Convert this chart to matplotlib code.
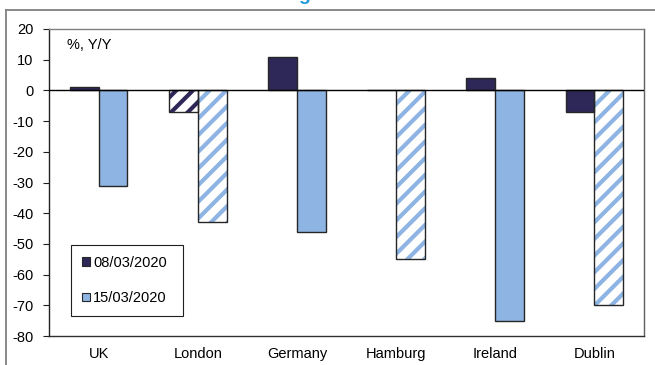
import numpy as np
import matplotlib
matplotlib.use("Agg")
import matplotlib.pyplot as plt
from matplotlib.patches import Patch
from matplotlib.lines import Line2D

plt.rcParams['font.family'] = ['Liberation Sans', 'DejaVu Sans']
plt.rcParams['hatch.linewidth'] = 3.0

categories = ['UK', 'London', 'Germany', 'Hamburg', 'Ireland', 'Dublin']
series_names = ['08/03/2020', '15/03/2020']
s1 = [1, -7, 11, 0, 4, -7]
s2 = [-31, -43, -46, -55, -75, -70]
s1_hatched = [False, True, False, False, False, False]
s2_hatched = [False, True, False, True, False, True]
yticks = list(range(-80, 21, 10))

DARK = '#2E2858'
LIGHT = '#8DB4E2'
EDGE = '#262626'
FS = 10.5

fig = plt.figure(figsize=(6.55, 3.65), dpi=100)
ax = fig.add_axes([49/655, 1-336/365, (644-49)/655, (336-29)/365])

x = np.arange(len(categories))
w = 0.29

def draw(vals, hatched, color, offset):
    for xi, v, h in zip(x, vals, hatched):
        if h:
            ax.bar(xi + offset, v, width=w, facecolor='white', edgecolor=color,
                   hatch='//', linewidth=0, zorder=2)
        else:
            ax.bar(xi + offset, v, width=w, facecolor=color, linewidth=0, zorder=2)
        ax.bar(xi + offset, v, width=w, fill=False, edgecolor=EDGE,
               linewidth=1.0, zorder=3)

draw(s1, s1_hatched, DARK, -w/2)
draw(s2, s2_hatched, LIGHT, w/2)

ax.axhline(0, color='black', linewidth=1.0, zorder=4)

ax.set_xlim(-0.5, len(categories) - 0.5)
ax.set_ylim(-80, 20)
ax.set_yticks(yticks)
ax.set_yticklabels([str(t) for t in yticks], fontsize=FS)
ax.set_xticks(x)
ax.set_xticklabels(categories, fontsize=FS)
ax.tick_params(axis='x', length=0, pad=8)
ax.tick_params(axis='y', direction='out', length=4, width=0.8, pad=7, color='#202020')

ax.spines['left'].set_color('#202020')
ax.spines['bottom'].set_color('#303030')
ax.spines['top'].set_color('#808080')
ax.spines['right'].set_color('#606060')
for s in ax.spines.values():
    s.set_linewidth(1.0)

ax.text(0.03, 0.948, '%, Y/Y', transform=ax.transAxes, fontsize=FS,
        ha='left', va='center')

handles = [Patch(facecolor=DARK, edgecolor=EDGE, linewidth=0.8),
           Patch(facecolor=LIGHT, edgecolor=EDGE, linewidth=0.8)]
leg = ax.legend(handles, series_names, loc='lower left',
                bbox_to_anchor=((71-49)/595, (336-316)/307, (183-71)/595, (316-248)/307),
                mode='expand', borderaxespad=0, fancybox=False, framealpha=1,
                edgecolor='#202020', fontsize=FS, handlelength=0.55,
                handleheight=0.55, handletextpad=0.2, labelspacing=1.45,
                borderpad=0.75)
leg.get_frame().set_linewidth(0.8)

# outer chart frame
fig.add_artist(Line2D([5.5/655, 1.0], [1-9.5/365, 1-9.5/365], transform=fig.transFigure,
                      color='#808080', linewidth=1.3))
fig.add_artist(Line2D([5.5/655, 5.5/655], [0.0, 1-9.5/365], transform=fig.transFigure,
                      color='#808080', linewidth=1.3))

# cut-off title fragment at top (as in the reference)
fig.text(304/655, 1.0, 'g', ha='center', va='baseline', fontsize=14,
         fontweight='bold', color='#1E9BD7')

fig.savefig('out.png', dpi=100)
